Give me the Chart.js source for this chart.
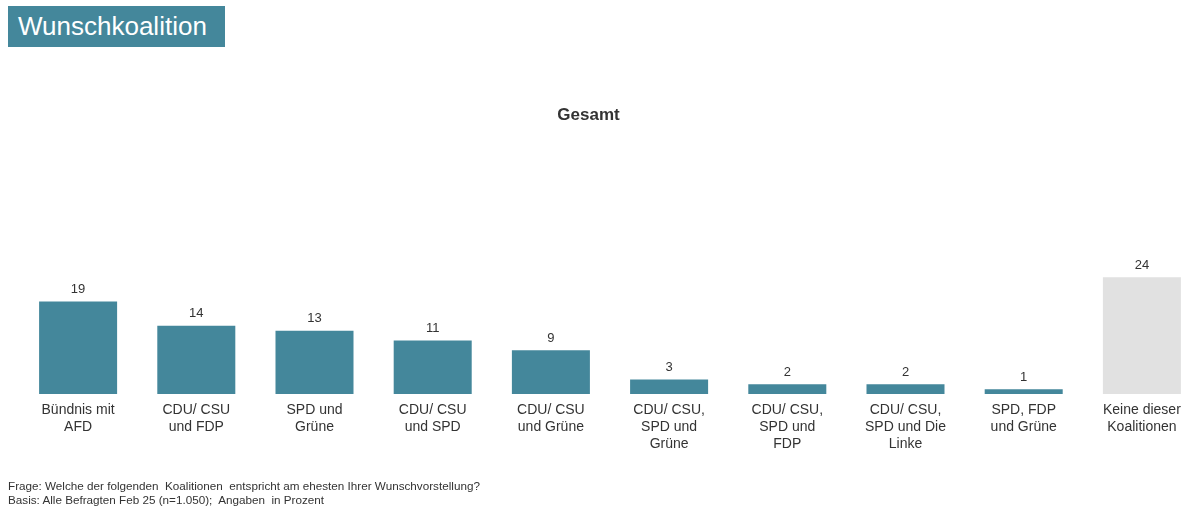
<!DOCTYPE html>
<html lang="de">
<head>
<meta charset="utf-8">
<title>Wunschkoalition</title>
<script src="https://cdn.jsdelivr.net/npm/chart.js@4.4.1/dist/chart.umd.min.js"></script>
<style>
    html, body {
        margin: 0;
        padding: 0;
        background: #fff;
        font-family: "Liberation Sans", Arial, sans-serif;
        color: #333;
    }
    .page {
        position: relative;
        width: 1197px;
        height: 513px;
        overflow: hidden;
    }
    .p-title {
        position: absolute;
        left: 8px;
        top: 6px;
        width: 217px;
        height: 41px;
        background: #44879b;
        color: #fff;
        font-size: 26px;
        line-height: 41px;
        padding-left: 10px;
        box-sizing: border-box;
    }
    .p-subtitle {
        position: absolute;
        left: 0;
        width: 1177px;
        top: 105px;
        text-align: center;
        font-size: 17px;
        font-weight: bold;
    }
    .p-note {
        position: absolute;
        left: 8px;
        top: 479px;
        font-size: 11.7px;
        line-height: 14px;
        white-space: pre;
    }
    #chart {
        position: absolute;
        left: 0;
        top: 0;
    }
</style>
</head>
<body>
<div class="page">
    <canvas id="chart" width="1201" height="513"></canvas>
    <div class="p-title">Wunschkoalition</div>
    <div class="p-subtitle">Gesamt</div>
    <div class="p-note">Frage: Welche der folgenden  Koalitionen  entspricht am ehesten Ihrer Wunschvorstellung?
Basis: Alle Befragten Feb 25 (n=1.050);  Angaben  in Prozent</div>
</div>

<script>
// ============================================================================
// データ
// ============================================================================

const categories = [
    ["Bündnis mit", "AFD"],
    ["CDU/ CSU", "und FDP"],
    ["SPD und", "Grüne"],
    ["CDU/ CSU", "und SPD"],
    ["CDU/ CSU", "und Grüne"],
    ["CDU/ CSU,", "SPD und", "Grüne"],
    ["CDU/ CSU,", "SPD und", "FDP"],
    ["CDU/ CSU,", "SPD und Die", "Linke"],
    ["SPD, FDP", "und Grüne"],
    ["Keine dieser", "Koalitionen"],
];
const values = [19, 14, 13, 11, 9, 3, 2, 2, 1, 24];

const TEAL = "#44879b";
const GREY = "#e1e1e1";
// 最後の「Keine dieser Koalitionen」だけグレー
const barColors = values.map((v, i) => (i === values.length - 1 ? GREY : TEAL));

// ============================================================================
// 棒の上に数値を表示するプラグイン
// ============================================================================

const valueLabels = {
    id: "valueLabels",
    afterDatasetsDraw(chart) {
        const c = chart.ctx;
        const meta = chart.getDatasetMeta(0);
        c.save();
        c.font = "13px 'Liberation Sans', Arial, sans-serif";
        c.fillStyle = "#333";
        c.textAlign = "center";
        c.textBaseline = "middle";
        meta.data.forEach((bar, i) => {
            c.fillText(String(values[i]), bar.x, bar.y - 12);
        });
        c.restore();
    },
};

// ============================================================================
// グラフ描画
// ============================================================================

const ctx = document.getElementById("chart");

if (ctx) {
    new Chart(ctx, {
        type: "bar",
        data: {
            labels: categories,
            datasets: [
                {
                    data: values,
                    backgroundColor: barColors,
                    borderWidth: 0,
                    categoryPercentage: 1,
                    barPercentage: 0.66,
                },
            ],
        },
        options: {
            responsive: false,
            animation: false,
            layout: {
                padding: { top: 248, left: 19, right: 0, bottom: 0 },
            },
            plugins: {
                legend: { display: false },
                title: { display: false },
                tooltip: { enabled: false },
            },
            scales: {
                x: {
                    grid: { display: false, drawTicks: false },
                    border: { display: false },
                    ticks: {
                        color: "#333",
                        padding: 8,
                        maxRotation: 0,
                        autoSkip: false,
                        font: { family: "'Liberation Sans', Arial, sans-serif", size: 14, lineHeight: 1.2 },
                    },
                    afterFit: (scale) => {
                        // 棒の基準線を y=394 に合わせる
                        scale.height = 119;
                    },
                },
                y: {
                    display: false,
                    min: 0,
                    max: 30,
                },
            },
        },
        plugins: [valueLabels],
    });
}
</script>
</body>
</html>
